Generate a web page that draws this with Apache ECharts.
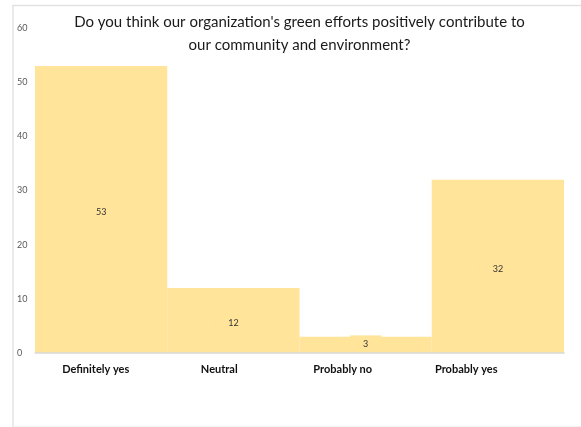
<!DOCTYPE html>
<html>
<head>
<meta charset="utf-8">
<script src="https://cdn.jsdelivr.net/npm/echarts@6/dist/echarts.min.js"></script>
<style>html,body{margin:0;padding:0;background:#fff}#c{width:581px;height:427px}</style>
</head>
<body>
<div id="c"></div>
<script>
var categories = ['Definitely yes', 'Neutral', 'Probably no', 'Probably yes'];
var values = [53, 12, 3, 32];
var yTicks = [0, 10, 20, 30, 40, 50, 60];
var titleText = "Do you think our organization's green efforts positively contribute to\nour community and environment?";

var barData = values.map(function (v, i) {
  var item = {value: v};
  if (categories[i] === 'Probably no') {
    item.label = {offset: [0, -1]};
  }
  return item;
});

var chart = echarts.init(document.getElementById('c'), null, {renderer: 'canvas'});
chart.setOption({
  animation: false,
  backgroundColor: '#ffffff',
  title: {
    text: titleText,
    left: 294.5,
    textAlign: 'center',
    top: 6,
    textStyle: {fontFamily: 'Lato', fontSize: 15, fontWeight: 'normal', color: '#1a1a1a', lineHeight: 23}
  },
  grid: [
    {left: 35, right: 17, top: 28, bottom: 74, containLabel: false},
    {left: 34, right: 53, top: 28, bottom: 74, containLabel: false}
  ],
  xAxis: [{
    type: 'category',
    gridIndex: 0,
    data: categories,
    z: 5,
    axisLine: {show: true, lineStyle: {color: '#d9d9d9', width: 1.5}},
    axisTick: {show: false},
    axisLabel: {show: false}
  }, {
    type: 'category',
    gridIndex: 1,
    data: categories,
    axisLine: {show: false},
    axisTick: {show: false},
    axisLabel: {fontFamily: 'Lato', fontWeight: 'bold', fontSize: 11, color: '#111', margin: 11}
  }],
  yAxis: [{
    type: 'value',
    gridIndex: 0,
    min: yTicks[0],
    max: yTicks[yTicks.length - 1],
    interval: 10,
    axisLine: {show: false},
    axisTick: {show: false},
    splitLine: {show: false},
    axisLabel: {fontFamily: 'Lato', fontSize: 9, color: '#595959', align: 'left', margin: 18}
  }, {
    type: 'value',
    gridIndex: 1,
    min: 0, max: 60,
    show: false
  }],
  series: [{
    type: 'bar',
    xAxisIndex: 0,
    yAxisIndex: 0,
    data: barData,
    barCategoryGap: '0%',
    itemStyle: {color: '#FFE499'},
    label: {
      show: true,
      position: 'inside',
      fontFamily: 'Lato',
      fontSize: 9,
      color: '#333',
      backgroundColor: '#FFE499',
      padding: [6, 13, 2, 13],
      offset: [0, 3]
    }
  }],
  graphic: [
    {type: 'line', shape: {x1: 12, y1: 5.5, x2: 581, y2: 5.5}, style: {stroke: '#e3e3e3', lineWidth: 1.5}},
    {type: 'line', shape: {x1: 13, y1: 5, x2: 13, y2: 427}, style: {stroke: '#e3e3e3', lineWidth: 1.5}},
    {type: 'line', shape: {x1: 13, y1: 426.5, x2: 581, y2: 426.5}, style: {stroke: '#f3f3f3', lineWidth: 1}}
  ]
});
</script>
</body>
</html>
